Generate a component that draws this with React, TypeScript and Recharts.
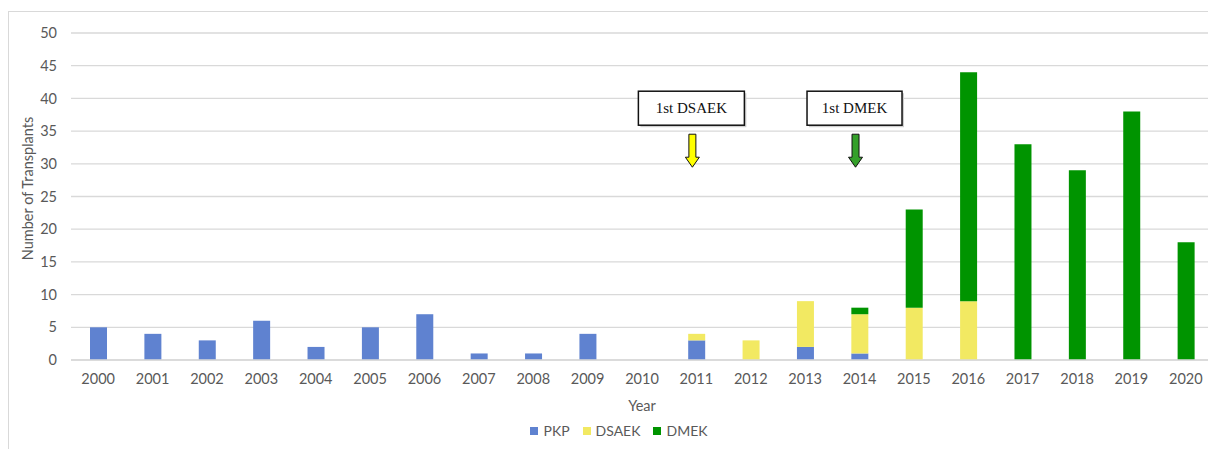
import React from 'react';
import { BarChart, Bar, XAxis, YAxis, CartesianGrid, ReferenceDot } from 'recharts';

const years = ['2000', '2001', '2002', '2003', '2004', '2005', '2006', '2007', '2008', '2009', '2010',
  '2011', '2012', '2013', '2014', '2015', '2016', '2017', '2018', '2019', '2020'];
const pkp = [5, 4, 3, 6, 2, 5, 7, 1, 1, 4, 0, 3, 0, 2, 1, 0, 0, 0, 0, 0, 0];
const dsaek = [0, 0, 0, 0, 0, 0, 0, 0, 0, 0, 0, 1, 3, 7, 6, 8, 9, 0, 0, 0, 0];
const dmek = [0, 0, 0, 0, 0, 0, 0, 0, 0, 0, 0, 0, 0, 0, 1, 15, 35, 33, 29, 38, 18];
const yTicks = [0, 5, 10, 15, 20, 25, 30, 35, 40, 45, 50];

const series = [
  { key: 'PKP', color: '#5f82d0' },
  { key: 'DSAEK', color: '#f2e962' },
  { key: 'DMEK', color: '#009400' },
];

// arrow callouts: where the first procedure of each kind happened
const notes = [
  { year: '2011', label: '1st DSAEK', arrow: '#ffff00', at: 38.5 },
  { year: '2014', label: '1st DMEK', arrow: '#34a02a', at: 38.5 },
];

const data = years.map((y, i) => ({ year: y, PKP: pkp[i], DSAEK: dsaek[i], DMEK: dmek[i] }));

const tickStyle = { fill: '#595959', fontSize: 14.5, fontFamily: 'Lato, sans-serif' };

const Callout = (props: any) => {
  const { cx, cy, label, arrow } = props;
  if (cx == null || cy == null) return null;
  const w = label.length * 11 + 7;
  const h = 34;
  const bx = cx - 5;
  const ax = cx - 4;
  const top = cy + 26;
  const neck = cy + 49;
  const tip = cy + 59;
  const pts = [
    [ax - 3.5, top], [ax + 3.5, top], [ax + 3.5, neck], [ax + 7, neck],
    [ax, tip], [ax - 7, neck], [ax - 3.5, neck],
  ].map(p => p.join(',')).join(' ');
  return (
    <g>
      <rect x={bx - w / 2 + 2} y={cy - h / 2 + 2} width={w} height={h} fill="#cfcfcf" />
      <rect x={bx - w / 2} y={cy - h / 2} width={w} height={h} fill="#fff" stroke="#111" strokeWidth={1.5} />
      <text x={bx} y={cy + 5} textAnchor="middle" fontSize={15}
        fontFamily="'Liberation Serif', 'DejaVu Serif', serif" fill="#111">{label}</text>
      <polygon points={pts} fill={arrow} stroke="#111" strokeWidth={1} />
    </g>
  );
};

const App: React.FC = () => {
  return (
    <div style={{ position: 'relative', marginTop: 3, width: 1205, height: 438, border: '1px solid #d9d9d9', borderBottom: 'none', background: '#fff' }}>
      <BarChart width={1204} height={437} data={data} margin={{ top: 21, right: 0, bottom: 0, left: 0 }} barSize={17}>
        <CartesianGrid vertical={false} stroke="#d9d9d9" strokeWidth={1.3} />
        <XAxis
          dataKey="year"
          interval={0}
          height={89}
          tickLine={false}
          axisLine={{ stroke: '#d9d9d9', strokeWidth: 1.3 }}
          tickSize={0}
          tickMargin={14}
          tick={tickStyle}
          label={{
            content: ({ viewBox }: any) => (
              <text x={viewBox.x + viewBox.width / 2} y={viewBox.y + 51} textAnchor="middle"
                fill="#595959" fontSize={14.5} fontFamily="Lato, sans-serif">Year</text>
            ),
          }}
        />
        <YAxis
          width={62}
          domain={[0, 50]}
          ticks={yTicks}
          interval={0}
          tickLine={false}
          axisLine={false}
          tickSize={0}
          tickMargin={14}
          tick={tickStyle}
          label={{
            content: ({ viewBox }: any) => {
              const x = viewBox.x + 18;
              const y = viewBox.y + viewBox.height / 2 - 8;
              return (
                <text x={x} y={y} transform={`rotate(-90 ${x} ${y})`} textAnchor="middle" dominantBaseline="central"
                  fill="#595959" fontSize={14.5} fontFamily="Lato, sans-serif">Number of Transplants</text>
              );
            },
          }}
        />
        {series.map(s => (
          <Bar key={s.key} dataKey={s.key} stackId="a" fill={s.color} isAnimationActive={false} />
        ))}
        {notes.map(n => (
          <ReferenceDot
            key={n.label}
            x={n.year}
            y={n.at}
            r={1}
            ifOverflow="visible"
            shape={(p: any) => <Callout {...p} label={n.label} arrow={n.arrow} />}
          />
        ))}
      </BarChart>
      <div style={{ position: 'absolute', left: 8, width: 1204, top: 410, display: 'flex', justifyContent: 'center', gap: 13,
        fontFamily: 'Lato, sans-serif', fontSize: 14, color: '#595959' }}>
        {series.map(s => (
          <div key={s.key} style={{ display: 'flex', alignItems: 'center', gap: 5 }}>
            <div style={{ width: 8, height: 8, background: s.color }} />
            <span>{s.key}</span>
          </div>
        ))}
      </div>
    </div>
  );
};

export default App;
